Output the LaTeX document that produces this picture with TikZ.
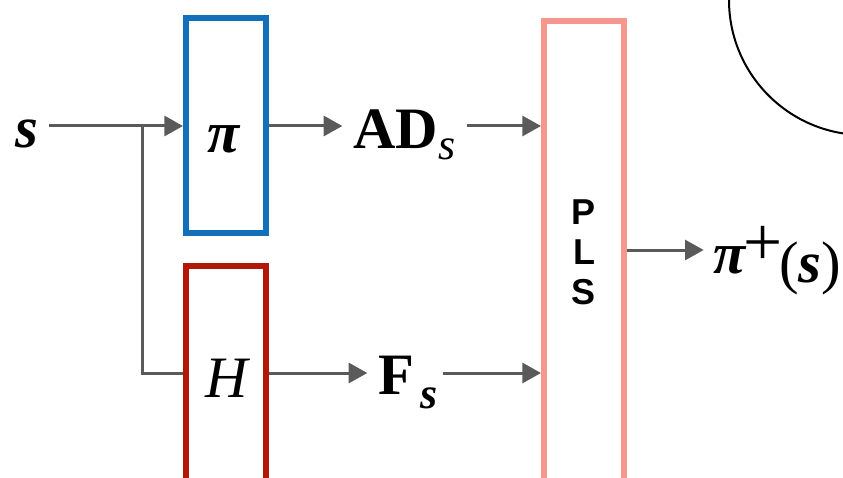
\documentclass[tikz,border=0pt]{standalone}
\usepackage{fontspec}
\setmainfont{Liberation Serif}
\newfontfamily\plsfont{Liberation Sans}
\usetikzlibrary{arrows.meta}
\definecolor{boxblue}{RGB}{18,112,186}
\definecolor{boxred}{RGB}{178,24,10}
\definecolor{boxpink}{RGB}{246,150,142}
\definecolor{arrgray}{RGB}{90,90,90}
\begin{document}
\begin{tikzpicture}[x=0.75pt,y=-0.75pt,
  blk/.style={draw, line width=4.5pt, minimum width=60pt, inner sep=0pt},
  lbl/.style={inner sep=0pt, font=\fontsize{44}{50}\selectfont},
  arr/.style={draw=arrgray, line width=2.25pt, -{Triangle[length=14pt,width=15pt]}},
  conn/.style={draw=arrgray, line width=2.25pt}]
\useasboundingbox (0,0) rectangle (843,478);
\clip (0,0) rectangle (843,478);
% boxes
\node[blk, draw=boxblue, minimum height=161.25pt] (pi) at (226,125.5) {};
\node[blk, draw=boxred, minimum height=162pt] (H) at (226,374) {};
\node[blk, draw=boxpink, minimum height=346.5pt, align=center,
      font=\plsfont\bfseries\fontsize{27}{30}\selectfont] (pls) at (584,252) {P\\L\\S};
% texts
\node[lbl, anchor=base west] (s) at (15,147) {\bfseries\itshape s};
\node[lbl, anchor=base] (pitxt) at (224,152) {\bfseries\itshape π};
\node[lbl, anchor=base] (Htxt) at (227,397) {\itshape H};
\node[lbl, anchor=base west] (AD) at (353,148) {\bfseries AD\raisebox{-9pt}{\fontsize{33}{33}\selectfont\mdseries\itshape s}};
\node[lbl, anchor=base west] (F) at (378,394) {\bfseries F\hspace{5pt}\raisebox{-10.5pt}{\fontsize{33}{33}\selectfont\itshape s}};
\node[lbl, anchor=base west] (pp) at (713,273) {{\bfseries\itshape π}\kern-1pt\raisebox{6pt}{\fontsize{52}{52}\selectfont +}\kern-3pt\raisebox{-6.75pt}{\fontsize{44}{50}\selectfont({\bfseries\itshape s})}};
% row levels
\coordinate (r1) at (0,126);
\coordinate (r2) at (0,373);
\coordinate (r3) at (0,250);
\coordinate (br) at (142,126);
% connectors
\draw[arr, shorten <=8pt] (s.east |- r1) -- (pi.west |- r1);
\draw[arr, shorten >=8pt] (pi.east |- r1) -- (AD.west |- r1);
\draw[arr, shorten <=9pt] (AD.east |- r1) -- (pls.west |- r1);
\draw[conn] (br) |- (H.west |- r2);
\draw[arr, shorten >=8pt] (H.east |- r2) -- (F.west |- r2);
\draw[arr, shorten <=4pt] (F.east |- r2) -- (pls.west |- r2);
\draw[arr, shorten >=7pt] (pls.east |- r3) -- (pp.west |- r3);
% arc at top right
\draw[black, line width=1.5pt] (864,0) circle[radius=135];
\end{tikzpicture}
\end{document}
